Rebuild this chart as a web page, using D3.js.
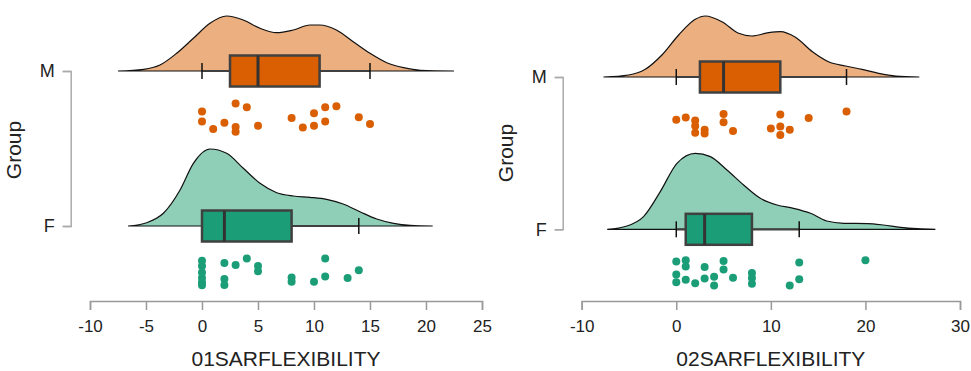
<!DOCTYPE html>
<html>
<head>
<meta charset="utf-8">
<script src="https://cdn.jsdelivr.net/npm/d3@7"></script>
<style>
  body { margin: 0; background: #fff; }
  text { font-family: "Liberation Sans", Arial, sans-serif; fill: #222; }
</style>
</head>
<body>
<svg id="chart" width="971" height="371"></svg>
<script>
// groups and axis ticks
const groups = ["M", "F"]
const ticks1 = [-10, -5, 0, 5, 10, 15, 20, 25]
const ticks2 = [-10, 0, 10, 20, 30]
const titles = ["01SARFLEXIBILITY", "02SARFLEXIBILITY"]

// density outlines: [value, density]
const dens1M = [[-7.5,0],[-5.2,0.0017],[-3.75,0.006],[-2.26,0.0177],[-0.77,0.0327],[0.71,0.0477],[2.2,0.055],[3.69,0.051],[5.18,0.0427],[6.67,0.0383],[8.15,0.041],[9.64,0.046],[10.5,0.046],[12.0,0.041],[13.5,0.0293],[15.0,0.0177],[16.5,0.0083],[18.0,0.0033],[19.5,0.0007],[22.5,0]]
const dens1F = [[-6.6,0],[-4.94,0.0033],[-3.45,0.0127],[-1.96,0.036],[-0.77,0.0627],[0.71,0.077],[2.2,0.0727],[3.69,0.0577],[5.18,0.0427],[6.67,0.0333],[8.15,0.030],[9.64,0.0287],[11.13,0.0267],[12.6,0.022],[14.1,0.0143],[15.6,0.007],[17.1,0.0027],[18.6,0.0007],[20.6,0]]
const dens2M = [[-7.7,0],[-5.04,0.002],[-3.28,0.0077],[-1.52,0.022],[0.25,0.042],[2.01,0.0577],[3.07,0.061],[4.83,0.0553],[6.6,0.0437],[8.0,0.041],[9.77,0.0443],[11.0,0.0453],[12.6,0.0397],[14.4,0.0253],[16.1,0.0153],[17.9,0.011],[19.65,0.0077],[21.4,0.0037],[23.2,0.001],[25.7,0]]
const dens2F = [[-7.3,0],[-5.22,0.0033],[-3.46,0.0127],[-1.69,0.0377],[0.07,0.066],[2.01,0.076],[3.6,0.0727],[5.36,0.0593],[7.12,0.0443],[8.89,0.031],[10.65,0.0243],[12.4,0.021],[14.2,0.016],[15.9,0.0083],[17.7,0.006],[20.2,0.0057],[21.9,0.0043],[23.7,0.002],[25.5,0.0007],[27.4,0]]

// box stats: [whisker low, q1, median, q3, whisker high]
const box1M = [0, 2.5, 5, 10.5, 15]
const box1F = [0, 0, 2, 8, 14]
const box2M = [0, 2.5, 5, 11, 18]
const box2F = [0, 1, 3, 8, 13]

// raw points: [value, jitter 0..1]
const pts1M = [[0,0.31],[0,0.63],[1,0.87],[2,0.67],[3,0.05],[3,0.81],[3,0.96],[4,0.17],[5,0.77],[8,0.52],[9,0.82],[10,0.36],[10,0.77],[11,0.17],[11,0.63],[12,0.14],[14,0.49],[15,0.71]]
const pts1F = [[0,0.12],[0,0.29],[0,0.5],[0,0.68],[0,0.82],[0,0.91],[2,0.19],[2,0.71],[2,0.9],[3,0.26],[4,0.05],[5,0.29],[5,0.46],[8,0.66],[8,0.8],[10,0.8],[11,0.05],[11,0.63],[13,0.68],[14,0.43]]
const pts2M = [[0,0.38],[1,0.31],[2,0.4],[2,0.58],[2,0.8],[3,0.7],[3,0.82],[5,0.19],[5,0.46],[6,0.74],[10,0.66],[11,0.21],[11,0.6],[11,0.87],[12,0.7],[14,0.32],[18,0.11]]
const pts2F = [[0,0.04],[0,0.46],[0,0.71],[1,0],[1,0.2],[1,0.63],[2,0.74],[3,0.22],[3,0.59],[4,0.53],[4,0.81],[5,0.02],[5,0.3],[6,0.56],[8,0.41],[8,0.57],[8,0.76],[12,0.81],[13,0.07],[13,0.61],[20,0]]

const colors = {
  M: { dens: "#ecaf80", box: "#d95f02", pt: "#d95f02" },
  F: { dens: "#8fcfb8", box: "#1b9e77", pt: "#1b9e77" }
}

const svg = d3.select("#chart")

const panels = [
  { domain: [-10, 25], xr: [90, 482], yr: [71, 226], yAxisX: 70.7, ticks: ticks1, title: titles[0],
    dens: { M: dens1M, F: dens1F }, box: { M: box1M, F: box1F }, pts: { M: pts1M, F: pts1F }, groupY: 150 },
  { domain: [-10, 30], xr: [581.7, 960], yr: [77, 229.3], yAxisX: 562.7, ticks: ticks2, title: titles[1],
    dens: { M: dens2M, F: dens2F }, box: { M: box2M, F: box2F }, pts: { M: pts2M, F: pts2F }, groupY: 153 }
]

const densScale = d3.scaleLinear().domain([0, 0.1]).range([0, 100])
const jitter = d3.scaleLinear().domain([0, 1]).range([31, 62])
const axisY = 301
const boxHalf = 15.5

panels.forEach((p) => {
  var x = d3.scaleLinear().domain(p.domain).range(p.xr)
  var y = d3.scalePoint().domain(groups).range(p.yr)
  var g = svg.append("g")

  groups.forEach((grp) => {
    var base = y(grp)
    var area = d3.area()
      .x(d => x(d[0]))
      .y0(base)
      .y1(d => base - densScale(d[1]))
      .curve(d3.curveMonotoneX)
    g.append("path")
      .datum(p.dens[grp])
      .attr("d", area)
      .attr("fill", colors[grp].dens)
      .attr("stroke", "#111")
      .attr("stroke-width", 1.2)

    var b = p.box[grp]
    // whiskers
    g.append("line")
      .attr("x1", x(b[0])).attr("x2", x(b[4]))
      .attr("y1", base).attr("y2", base)
      .attr("stroke", "#404040").attr("stroke-width", 2.2)
    ;[b[0], b[4]].forEach((v) => {
      g.append("line")
        .attr("x1", x(v)).attr("x2", x(v))
        .attr("y1", base - 8).attr("y2", base + 8)
        .attr("stroke", "#111").attr("stroke-width", 1.5)
    })
    g.append("rect")
      .attr("x", x(b[1])).attr("y", base - boxHalf)
      .attr("width", x(b[3]) - x(b[1])).attr("height", boxHalf * 2)
      .attr("fill", colors[grp].box)
      .attr("stroke", "#404040").attr("stroke-width", 2.5)
    g.append("line")
      .attr("x1", x(b[2])).attr("x2", x(b[2]))
      .attr("y1", base - boxHalf).attr("y2", base + boxHalf)
      .attr("stroke", "#333").attr("stroke-width", 3)

    g.selectAll("circle.pt-" + grp)
      .data(p.pts[grp])
      .enter()
      .append("circle")
      .attr("class", "pt-" + grp)
      .attr("cx", d => x(d[0]))
      .attr("cy", d => base + jitter(d[1]))
      .attr("r", 4)
      .attr("fill", colors[grp].pt)
  })

  // x axis
  var xAxis = g.append("g")
    .attr("transform", "translate(0," + axisY + ")")
    .call(d3.axisBottom(x).tickValues(p.ticks).tickSize(9).tickPadding(10).tickFormat(d3.format("d")))
  xAxis.select(".domain").attr("stroke", "#999").attr("stroke-width", 1.5)
  xAxis.selectAll(".tick line").attr("stroke", "#999").attr("stroke-width", 1.5)
  xAxis.selectAll(".tick text")
    .attr("font-size", 17)
    .attr("font-family", "Liberation Sans, Arial, sans-serif")
    .attr("fill", "#111")
    .text(d => d < 0 ? "-" + Math.abs(d) : d)

  // y axis
  var yAxis = g.append("g")
    .attr("transform", "translate(" + p.yAxisX + ",0)")
    .call(d3.axisLeft(y).tickSize(8).tickPadding(8))
  yAxis.select(".domain").attr("stroke", "#aaa").attr("stroke-width", 1.5)
  yAxis.selectAll(".tick line").attr("stroke", "#aaa").attr("stroke-width", 1.5)
  yAxis.selectAll(".tick text")
    .attr("font-size", 18)
    .attr("font-family", "Liberation Sans, Arial, sans-serif")
    .attr("fill", "#111")

  g.append("text")
    .attr("x", (p.xr[0] + p.xr[1]) / 2)
    .attr("y", 366)
    .attr("text-anchor", "middle")
    .attr("font-size", 21)
    .attr("fill", "#111")
    .text(p.title)

  var gx = p.yAxisX - 50
  g.append("text")
    .attr("transform", "translate(" + gx + "," + p.groupY + ") rotate(-90)")
    .attr("text-anchor", "middle")
    .attr("font-size", 21)
    .attr("fill", "#111")
    .text("Group")
})
</script>
</body>
</html>
